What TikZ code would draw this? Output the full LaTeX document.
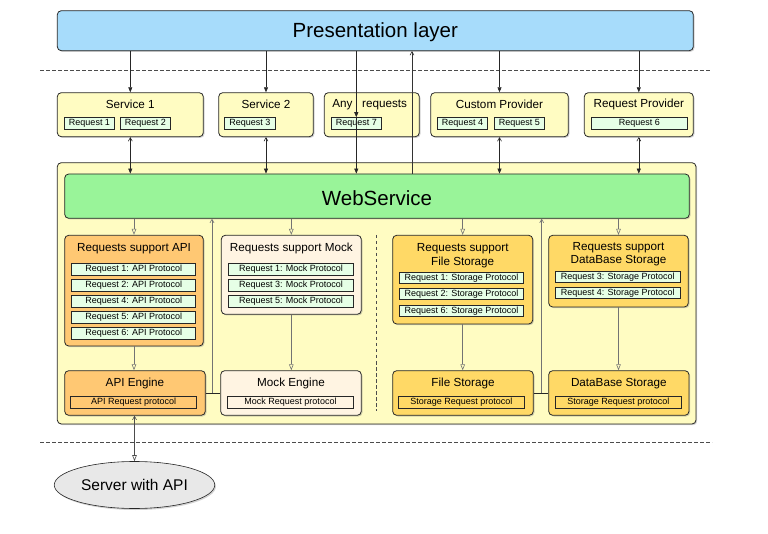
\documentclass[tikz,border=0pt]{standalone}
\usepackage{fontspec}
\setmainfont{Liberation Sans}
\usetikzlibrary{arrows.meta,fit,shadows,shapes.geometric}
\definecolor{layerblue}{RGB}{167,220,251}
\definecolor{webgreen}{RGB}{153,244,153}
\definecolor{hostyellow}{RGB}{255,252,194}
\definecolor{reqmint}{RGB}{230,255,230}
\definecolor{apiorange}{RGB}{255,200,115}
\definecolor{mockcream}{RGB}{255,244,226}
\definecolor{storegold}{RGB}{255,217,102}
\definecolor{servergray}{RGB}{232,232,232}
\def\fs#1{\fontsize{#1}{#1}\selectfont}
\tikzset{
	panel/.style={draw=black!85, line width=0.8pt, rounded corners=4pt, inner sep=0pt,
		drop shadow={shadow xshift=1.2pt, shadow yshift=-1.2pt, opacity=0.35}},
	reqbox/.style={draw=black!85, line width=0.6pt, fill=reqmint, inner sep=0pt, minimum height=11.5pt, font=\fs{9}},
	protobox/.style={draw=black!85, line width=0.6pt, inner sep=0pt, minimum height=12pt, font=\fs{9}},
	boxtitle/.style={font=\fontsize{11.7}{13.4}\selectfont, align=center, inner sep=0pt, yshift=-1.6pt},
	bigtitle/.style={font=\fs{20.5}, inner sep=0pt, yshift=-2pt},
	call/.style={draw=black!85, line width=0.6pt, -{Triangle[length=5pt,width=4pt]}},
	duplex/.style={draw=black!85, line width=0.6pt, {Straight Barb[length=3.5pt,width=4pt]}-{Triangle[length=5pt,width=4pt]}},
	feed/.style={draw=black!55, line width=0.6pt, -{Triangle[open,length=6pt,width=4.5pt]}},
	reply/.style={draw=black!55, line width=0.6pt, -{Straight Barb[length=3.5pt,width=4pt]}},
	link/.style={draw=black!70, line width=0.6pt, {Triangle[open,length=6pt,width=4.5pt]}-{Straight Barb[length=3.5pt,width=4pt]}},
	divider/.style={draw=black!70, line width=0.6pt, dash pattern=on 3.5pt off 2.5pt},
}

\begin{document}
\begin{tikzpicture}[x=1pt, y=-1pt]
	%%%%% START %%%%%
	\useasboundingbox (0,0) rectangle (768,534);
	
	\draw[divider] (40,70.7) -- (710,70.7);
	\draw[divider] (40,442.7) -- (712,442.7);
	
	\node[panel, fill=layerblue, fit={(57.3,10.7) (693.3,50.7)}] (pres) {};
	\node[bigtitle] (prestitle) at (pres.center) {Presentation layer};
	
	% services
	\node[panel, fill=hostyellow, fit={(57.3,92.7) (203.3,136.7)}] (srv1) {};
	\node[boxtitle] (srv1title) at (130.3,102.7) {Service 1};
	\node[reqbox, minimum width=50.4] (req1) at (89.5,123.3) {Request 1};
	\node[reqbox, minimum width=50.7] (req2) at (145.3,123.3) {Request 2};
	
	\node[panel, fill=hostyellow, fit={(218.7,92.7) (313.3,136.7)}] (srv2) {};
	\node[boxtitle] (srv2title) at (266,102.7) {Service 2};
	\node[reqbox, minimum width=51] (req3) at (249.8,123.3) {Request 3};
	
	\node[panel, fill=hostyellow, fit={(324.3,92.7) (419.3,136.7)}] (anyreq) {};
	\node[boxtitle] (anytitle) at (369.7,102.7) {Any\ \ \ requests};
	\node[reqbox, minimum width=50.7] (req7) at (356.3,123.3) {Request 7};
	
	\node[panel, fill=hostyellow, fit={(430.7,92.7) (568.3,136.7)}] (custom) {};
	\node[boxtitle] (customtitle) at (499.5,102.7) {Custom Provider};
	\node[reqbox, minimum width=50.4] (req4) at (462.5,123.3) {Request 4};
	\node[reqbox, minimum width=50] (req5) at (519.3,123.3) {Request 5};
	
	\node[panel, fill=hostyellow, fit={(584.3,92.7) (693.3,136.7)}] (reqprov) {};
	\node[boxtitle] (reqprovtitle) at (638.8,102.7) {Request Provider};
	\node[reqbox, minimum width=96] (req6) at (639.3,123.3) {Request 6};
	
	% web service host
	\node[panel, fill=hostyellow, fit={(57.3,162.7) (696,424)}] (host) {};
	\node[panel, fill=webgreen, fit={(64.7,174) (689.3,218.3)}] (web) {};
	\node[bigtitle] (webtitle) at (web.center) {WebService};
	
	\node[panel, fill=apiorange, fit={(64.7,235.3) (203.3,346)}] (apisup) {};
	\node[boxtitle] (apisuptitle) at (134,246.7) {Requests support API};
	\foreach \n/\y in {1/269.3, 2/285.3, 4/301.5, 5/317.5, 6/333.5}
		\node[reqbox, minimum width=124] (apir\n) at (133.7,\y) {Request \n: API Protocol};
	
	\node[panel, fill=mockcream, fit={(221.3,235.3) (361.3,314.3)}] (mocksup) {};
	\node[boxtitle] (mocksuptitle) at (291.3,246.7) {Requests support Mock};
	\foreach \n/\y in {1/269.3, 3/285.3, 5/301.5}
		\node[reqbox, minimum width=125.4] (mockr\n) at (291,\y) {Request \n: Mock Protocol};
	
	\draw[divider] (376,235) -- (376,411);
	
	\node[panel, fill=storegold, fit={(392.7,235.3) (532.7,324)}] (filesup) {};
	\node[boxtitle] (filesuptitle) at (462.7,254) {Requests support\\File Storage};
	\foreach \n/\y in {1/277.7, 2/294, 6/310.7}
		\node[reqbox, minimum width=124.4] (filer\n) at (461.5,\y) {Request \n: Storage Protocol};
	
	\node[panel, fill=storegold, fit={(548.7,235.3) (688.3,307)}] (dbsup) {};
	\node[boxtitle] (dbsuptitle) at (618.5,252.7) {Requests support\\DataBase Storage};
	\foreach \n/\y in {3/277, 4/293}
		\node[reqbox, minimum width=125] (dbr\n) at (617.8,\y) {Request \n: Storage Protocol};
	
	% engines
	\node[panel, fill=apiorange, fit={(64.7,370.7) (205.3,415.3)}] (apieng) {};
	\node[boxtitle] (apiengtitle) at (135,381.7) {API Engine};
	\node[protobox, minimum width=126] (apiproto) at (133.7,402.3) {API Request protocol};
	
	\node[panel, fill=mockcream, fit={(220.7,370.7) (361.3,415.3)}] (mockeng) {};
	\node[boxtitle] (mockengtitle) at (291,381.7) {Mock Engine};
	\node[protobox, minimum width=126.4] (mockproto) at (290.5,402.3) {Mock Request protocol};
	
	\node[panel, fill=storegold, fit={(392.7,370.7) (533.3,415.3)}] (filestore) {};
	\node[boxtitle] (filestoretitle) at (463,381.7) {File Storage};
	\node[protobox, minimum width=126] (fileproto) at (461.3,402.3) {Storage Request protocol};
	
	\node[panel, fill=storegold, fit={(548.7,370.7) (689,415.3)}] (dbstore) {};
	\node[boxtitle] (dbstoretitle) at (618.8,381.7) {DataBase Storage};
	\node[protobox, minimum width=126] (dbproto) at (618.3,402.3) {Storage Request protocol};
	
	\node[ellipse, draw=black!85, line width=0.6pt, fill=servergray, minimum width=155, minimum height=47,
		font=\fs{15.5}, drop shadow={shadow xshift=1.2pt, shadow yshift=-1.5pt, opacity=0.35}] (server) at (134.5,485) {Server with API};
	
	% connectors
	\coordinate (upx) at (412,0);
	\coordinate (joinL) at (212,0);
	\coordinate (joinR) at (541.7,0);
	
	\draw[call] (srv1.north |- pres.south) -- (srv1.north);
	\draw[call] (srv2.north |- pres.south) -- (srv2.north);
	\draw[call] (req7.north |- pres.south) -- (req7.north);
	\draw[call] (custom.north |- pres.south) -- (custom.north);
	\draw[call] (reqprov.north |- pres.south) -- (reqprov.north);
	
	\draw[duplex] (srv1.south) -- (srv1.south |- web.north);
	\draw[duplex] (srv2.south) -- (srv2.south |- web.north);
	\draw[call] (req7.north) -- (req7.south |- web.north);
	\draw[duplex] (custom.south) -- (custom.south |- web.north);
	\draw[duplex] (reqprov.south) -- (reqprov.south |- web.north);
	\draw[reply, draw=black!80] (upx |- web.north) -- (upx |- pres.south);
	
	\draw[feed] (apisup.north |- web.south) -- (apisup.north);
	\draw[feed] (mocksup.north |- web.south) -- (mocksup.north);
	\draw[feed] (filesup.north |- web.south) -- (filesup.north);
	\draw[feed] (dbsup.north |- web.south) -- (dbsup.north);
	
	\draw[feed] (apisup.south) -- (apisup.south |- apieng.north);
	\draw[feed] (mocksup.south) -- (mocksup.south |- mockeng.north);
	\draw[feed] (filesup.south) -- (filesup.south |- filestore.north);
	\draw[feed] (dbsup.south) -- (dbsup.south |- dbstore.north);
	
	\draw[draw=black!85, line width=0.6pt] (apieng.east) -- (mockeng.west);
	\draw[reply] (joinL |- apieng.east) -- (joinL |- web.south);
	\draw[draw=black!85, line width=0.6pt] (filestore.east) -- (dbstore.west);
	\draw[reply] (joinR |- filestore.east) -- (joinR |- web.south);
	
	\draw[link] (server.north) -- (server.north |- apieng.south);
	%%%%% END %%%%%
\end{tikzpicture}
\end{document}
